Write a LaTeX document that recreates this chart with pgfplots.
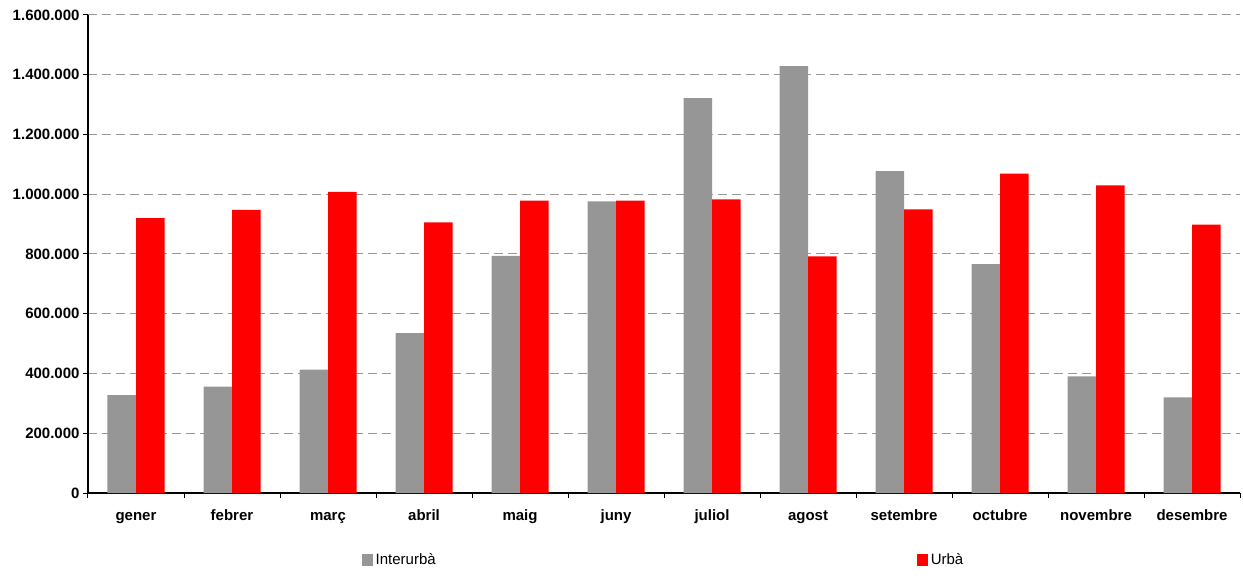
\documentclass[border=0pt]{standalone}
\usepackage{fontspec}
\setmainfont{Liberation Sans}
\usepackage{pgfplots}
\pgfplotsset{compat=1.18}
\definecolor{gris}{RGB}{150,150,150}
\definecolor{vermell}{RGB}{255,0,0}
\definecolor{graella}{RGB}{150,150,150}
\begin{document}
\begin{tikzpicture}
\begin{axis}[
  name=ax,
  scale only axis, width=1152bp, height=478bp,
  ybar=0pt, bar width=28.5bp,
  xmin=-0.5, xmax=11.5, ymin=0, ymax=1600000,
  axis x line*=bottom, axis y line*=left,
  axis line style={black, line width=1.2bp, -},
  tick align=outside, tick pos=left,
  xtick={0,...,11},
  xticklabels={gener,febrer,març,abril,maig,juny,juliol,agost,setembre,octubre,novembre,desembre},
  minor xtick={-0.5,0.5,...,11.5},
  major x tick style={draw=none},
  minor tick length=5bp, major tick length=5bp,
  every tick/.style={black, line width=1bp},
  ytick={0,200000,...,1600000},
  scaled y ticks=false,
  /pgf/number format/.cd, fixed, 1000 sep={.}, assume math mode=true,
  /pgfplots/.cd,
  tick label style={font=\fontsize{15bp}{18bp}\selectfont\bfseries},
  xticklabel style={anchor=north, text height=11bp, text depth=3bp, yshift=-8bp},
  ymajorgrids,
  major grid style={draw=graella, line width=1bp, dash pattern=on 9bp off 5bp},
  legend style={draw=none, fill=none, at={(0.5,-0.140)}, anchor=center,
    font=\fontsize{15bp}{18bp}\selectfont, inner sep=0pt,
    /tikz/every even column/.append style={column sep=478bp},
    nodes={inner sep=3bp}},
  legend columns=-1,
  legend image code/.code={\fill[#1] (0bp,-6bp) rectangle (11bp,6bp);},
]
\addplot[fill=gris, draw=none] coordinates {
 (0,328000) (1,356000) (2,413000) (3,535000) (4,794000) (5,976000)
 (6,1322000) (7,1429000) (8,1077000) (9,766000) (10,390000) (11,320000)};
\addplot[fill=vermell, draw=none] coordinates {
 (0,920000) (1,948000) (2,1008000) (3,906000) (4,979000) (5,979000)
 (6,983000) (7,792000) (8,949000) (9,1069000) (10,1030000) (11,898000)};
\legend{Interurbà,Urbà}
\end{axis}
\path (ax.south west) ++(-88bp,-84bp) coordinate (a);
\path (ax.north east) ++(3bp,15bp) coordinate (b);
\path (a) rectangle (b);
\end{tikzpicture}
\end{document}
